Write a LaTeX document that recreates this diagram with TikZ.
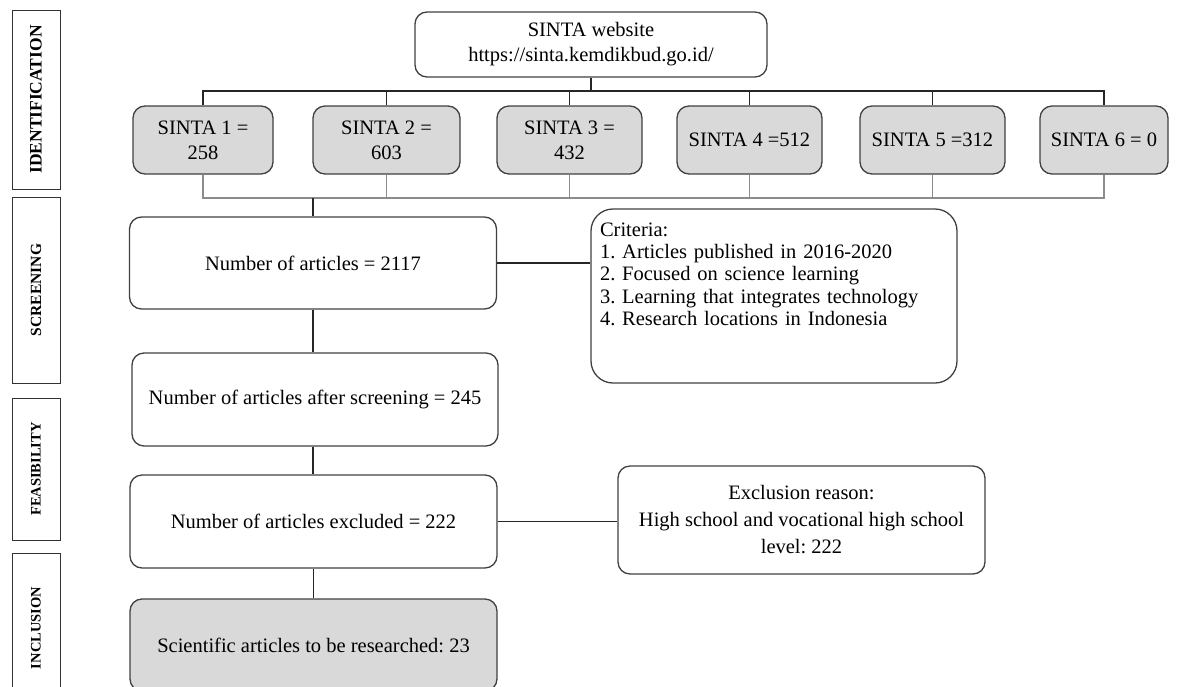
\documentclass[tikz,border=0pt]{standalone}
\usepackage{fontspec}
\setmainfont{Liberation Serif}
\frenchspacing
\begin{document}
\begin{tikzpicture}[x=1pt,y=-1pt,
  box/.style={draw=black!75, line width=1.3pt, rounded corners=12pt, align=center, inner sep=0pt,
    font=\fontsize{20.5}{25}\selectfont},
  gbox/.style={box, fill=black!15},
  side/.style={draw=black!80, line width=1pt, inner sep=0pt, rotate=90, font=\bfseries},
  conn/.style={draw=black!85, line width=1.4pt},
  bus/.style={draw=black!45, line width=1.1pt}]
\clip (0,0) rectangle (1181,686);
\useasboundingbox (0,0) rectangle (1181,686);
% side labels
\node[side, minimum width=179pt, minimum height=48pt, font=\bfseries\fontsize{17.5}{18}\selectfont] (lid) at (36,99.5) {IDENTIFICATION};
\node[side, minimum width=186pt, minimum height=48pt, font=\bfseries\fontsize{15.5}{16}\selectfont] (lsc) at (36,290) {SCREENING};
\node[side, minimum width=142pt, minimum height=48pt, font=\bfseries\fontsize{14.5}{16}\selectfont] (lfe) at (36,469) {FEASIBILITY};
\node[side, minimum width=150pt, minimum height=48pt, font=\bfseries\fontsize{14.5}{16}\selectfont] (lin) at (36,628) {INCLUSION};
% top box
\node[box, minimum width=352pt, minimum height=65pt] (web) at (591,44.5) {SINTA website\\https://sinta.kemdikbud.go.id/};
% SINTA boxes
\node[gbox, minimum width=140pt, minimum height=68pt] (s1) at (203,140) {SINTA 1 =\\258};
\node[gbox, minimum width=147pt, minimum height=68pt] (s2) at (386.5,140) {SINTA 2 =\\603};
\node[gbox, minimum width=145pt, minimum height=68pt] (s3) at (569.5,140) {SINTA 3 =\\432};
\node[gbox, minimum width=145pt, minimum height=68pt] (s4) at (749.5,140) {SINTA 4 =512};
\node[gbox, minimum width=145pt, minimum height=68pt] (s5) at (932.5,140) {SINTA 5 =312};
\node[gbox, minimum width=128pt, minimum height=68pt] (s6) at (1104,140) {SINTA 6 = 0};
\coordinate (top) at (591,91);
\coordinate (bot) at (313,198);
% flow boxes
\node[box, minimum width=367pt, minimum height=92pt] (n1) at (313,263) {Number of articles = 2117};
\node[box, minimum width=366pt, minimum height=174pt, rounded corners=22pt, align=left,
  text width=348pt, inner xsep=9pt, text depth=133pt,
  font=\fontsize{20.5}{22.3}\selectfont] (crit) at (774,296)
  {Criteria:\\1. Articles published in 2016-2020\\2. Focused on science learning\\3. Learning that integrates technology\\4. Research locations in Indonesia};
\node[box, minimum width=366pt, minimum height=93pt] (n2) at (315,399.5) {Number of articles after screening = 245};
\node[box, minimum width=367pt, minimum height=93pt] (n3) at (313.5,521.5) {Number of articles excluded = 222};
\node[box, minimum width=367pt, minimum height=108pt, font=\fontsize{20.5}{27}\selectfont] (excl) at (801.5,520)
  {Exclusion reason:\\High school and vocational high school\\level: 222};
\node[gbox, minimum width=367pt, minimum height=92pt] (inc) at (313.5,645) {Scientific articles to be researched: 23};
% connectors top
\draw[conn] (web.south) -- (top);
\draw[conn] (s1.north) -- (s1.north |- top) -- (s6.north |- top) -- (s6.north);
\foreach \s in {s2,s3,s4,s5} \draw[conn] (\s.north) -- (\s.north |- top);
% bottom bus
\draw[bus] (s1.south) -- (s1.south |- bot) -- (s6.south |- bot) -- (s6.south);
\foreach \s in {s2,s3,s4,s5} \draw[bus] (\s.south) -- (\s.south |- bot);
\draw[conn] (bot) -- (bot |- n1.north);
% flow
\draw[conn] (n1.south) -- (n1.south |- n2.north);
\draw[conn] (n1.east) -- (n1.east -| crit.west);
\draw[conn] (n2.south -| n1.south) -- (n1.south |- n3.north);
\draw[conn] (n3.east) -- (n3.east -| excl.west);
\draw[conn] (n3.south) -- (n3.south |- inc.north);
\end{tikzpicture}
\end{document}
